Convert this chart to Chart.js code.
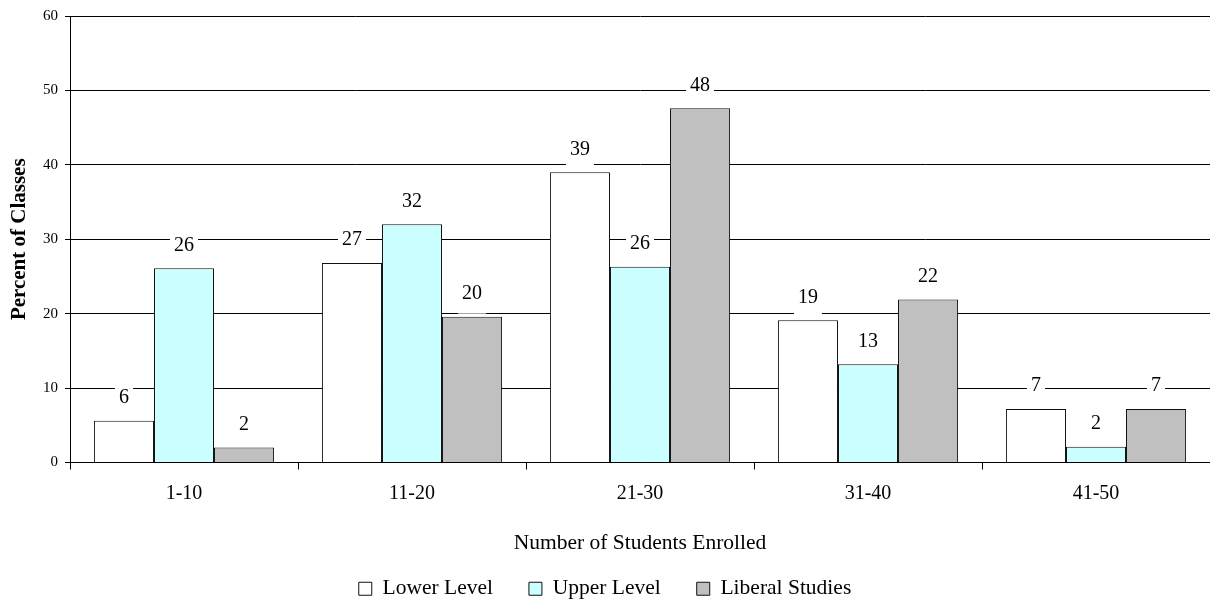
<!DOCTYPE html>
<html>
<head>
<meta charset="utf-8">
<script src="https://cdn.jsdelivr.net/npm/chart.js@4.4.1/dist/chart.umd.min.js"></script>
<style>
	html, body { margin: 0; padding: 0; background: #fff; }
	#wrap { width: 1210px; height: 603px; }
</style>
</head>
<body>
<div id="wrap"><canvas id="chart"></canvas></div>
<script>
const categories = ['1-10', '11-20', '21-30', '31-40', '41-50'];
const lowerLevel = [5.6, 26.8, 39.0, 19.1, 7.2];
const upperLevel = [26.1, 32.0, 26.3, 13.2, 2.1];
const liberalStudies = [2.0, 19.6, 47.6, 21.9, 7.2];
const yTicks = [0, 10, 20, 30, 40, 50, 60];

const serif = '"Liberation Serif", "Times New Roman", serif';

// value labels above each bar, white box knocks out the grid lines
const barLabels = {
	id: 'barLabels',
	afterDatasetsDraw(chart) {
		const ctx = chart.ctx;
		ctx.save();
		ctx.font = '20px ' + serif;
		ctx.textAlign = 'center';
		ctx.textBaseline = 'middle';
		chart.data.datasets.forEach((ds, i) => {
			chart.getDatasetMeta(i).data.forEach((bar, j) => {
				let text = String(Math.round(ds.data[j]));
				let w = ctx.measureText(text).width;
				let cy = bar.y - 24;
				ctx.fillStyle = '#fff';
				ctx.fillRect(bar.x - w / 2 - 4, cy - 13, w + 8, bar.y - 3 - (cy - 13));
				ctx.fillStyle = '#000';
				ctx.fillText(text, bar.x, cy + 1);
			});
		});
		ctx.restore();
	}
};

Chart.defaults.font.family = serif;
Chart.defaults.color = '#000';

new Chart(document.getElementById('chart').getContext('2d'), {
	type: 'bar',
	data: {
		labels: categories,
		datasets: [
			{ label: 'Lower Level', data: lowerLevel, backgroundColor: '#ffffff' },
			{ label: 'Upper Level', data: upperLevel, backgroundColor: '#ccffff' },
			{ label: 'Liberal Studies', data: liberalStudies, backgroundColor: '#c0c0c0' }
		].map(d => Object.assign(d, {
			borderColor: '#111',
			borderWidth: 1,
			categoryPercentage: 0.79,
			barPercentage: 1
		}))
	},
	options: {
		responsive: true,
		maintainAspectRatio: false,
		animation: false,
		layout: { padding: { top: 14, right: 0, bottom: -6.5, left: 0 } },
		plugins: {
			tooltip: { enabled: false },
			legend: {
				position: 'bottom',
				labels: {
					font: { size: 21.5 },
					boxWidth: 13,
					boxHeight: 13,
					padding: 36,
					color: '#000'
				}
			}
		},
		scales: {
			x: {
				grid: {
					drawOnChartArea: false,
					color: '#000',
					tickLength: 7
				},
				border: { color: '#000' },
				ticks: { font: { size: 20 }, padding: 12 },
				title: {
					display: true,
					text: 'Number of Students Enrolled',
					font: { size: 21.5 },
					padding: { top: 0, bottom: -14 }
				},
				afterFit(scale) { scale.height = 79.5; }
			},
			y: {
				min: 0,
				max: 60,
				afterBuildTicks(scale) { scale.ticks = yTicks.map(v => ({ value: v })); },
				grid: { color: '#000', tickLength: 5 },
				border: { color: '#000' },
				ticks: { font: { size: 15 }, padding: 7 },
				title: {
					display: true,
					text: 'Percent of Classes',
					font: { size: 21, weight: 'bold' },
					padding: { top: 7, bottom: 0 }
				},
				afterFit(scale) { scale.width = 70; }
			}
		}
	},
	plugins: [barLabels]
});
</script>
</body>
</html>
